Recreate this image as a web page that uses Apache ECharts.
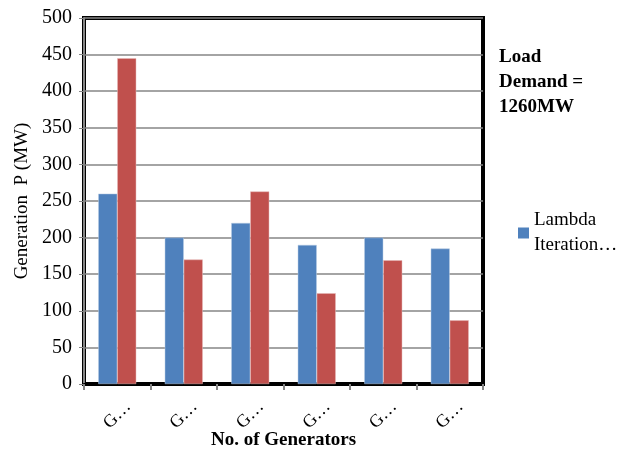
<!DOCTYPE html>
<html><head><meta charset="utf-8">
<script src="https://cdn.jsdelivr.net/npm/echarts@6/dist/echarts.min.js"></script>
<style>html,body{margin:0;padding:0;background:#fff}#c{width:625px;height:454px}</style>
</head><body><div id="c"></div>
<script>
const categories = ["G1","G2","G3","G4","G5","G6"];
const lambdaIteration = [260, 200, 220, 190, 200, 185];
const secondSeries = [445, 170, 263, 124, 169, 87];
const yTicks = [0, 50, 100, 150, 200, 250, 300, 350, 400, 450, 500];
const seriesNames = ["Lambda\nIteration…", "Series 2"];

const font = "'Liberation Serif', 'Times New Roman', serif";
const chart = echarts.init(document.getElementById('c'));
chart.setOption({
  animation: false,
  backgroundColor: '#fff',
  textStyle: { fontFamily: font },
  grid: { left: 84, top: 18, right: 142, bottom: 70, show: true, borderColor: '#000', borderWidth: 4,
    backgroundColor: 'transparent', containLabel: false, outerBoundsMode: 'none' },
  legend: {
    data: [seriesNames[0]],
    left: 513, top: 203, orient: 'vertical',
    itemWidth: 11, itemHeight: 11, itemGap: 4,
    icon: 'rect',
    itemStyle: { borderWidth: 0 },
    textStyle: { fontFamily: font, fontSize: 19, color: '#000', lineHeight: 25 }
  },
  graphic: [{
    type: 'text', left: 499, top: 45,
    style: { text: 'Load\nDemand =\n1260MW', font: "bold 19px " + font, fill: '#000', lineHeight: 25 }
  }],
  xAxis: {
    type: 'category', data: categories,
    name: 'No. of Generators', nameLocation: 'middle', nameGap: 47, nameMoveOverlap: false,
    nameTextStyle: { fontFamily: font, fontSize: 19, fontWeight: 'bold', color: '#000', verticalAlign: 'top' },
    axisLine: { show: true, lineStyle: { color: '#000', width: 3 } },
    axisTick: { show: true, length: 6, lineStyle: { color: '#868686', width: 2 } },
    axisLabel: { rotate: 45, margin: 31, fontSize: 18, color: '#000', fontFamily: font,
      align: 'center', verticalAlign: 'middle',
      formatter: v => v.charAt(0) + '…' },
    splitLine: { show: false }
  },
  yAxis: {
    type: 'value', min: 0, max: 500, interval: 50,
    name: 'Generation  P (MW)', nameLocation: 'middle', nameGap: 52, nameMoveOverlap: false,
    nameTextStyle: { fontFamily: font, fontSize: 19, color: '#000' },
    axisLine: { show: true, lineStyle: { color: '#868686', width: 2 } },
    axisTick: { show: true, length: 5, lineStyle: { color: '#868686', width: 1 } },
    axisLabel: { fontSize: 20, color: '#000', fontFamily: font, margin: 12,
      formatter: v => yTicks.includes(v) ? String(v) : '' },
    splitLine: { show: true, lineStyle: { color: '#868686', width: 1.5 } }
  },
  series: [
    { name: seriesNames[0], type: 'bar', data: lambdaIteration, barWidth: 19, barGap: '0%',
      itemStyle: { color: '#4F81BD', borderColor: '#B9CDE5', borderWidth: 0.5 } },
    { name: seriesNames[1], type: 'bar', data: secondSeries, barWidth: 19, barGap: '0%',
      itemStyle: { color: '#C0504D', borderColor: '#E6B9B8', borderWidth: 0.5 } }
  ]
});
</script></body></html>
